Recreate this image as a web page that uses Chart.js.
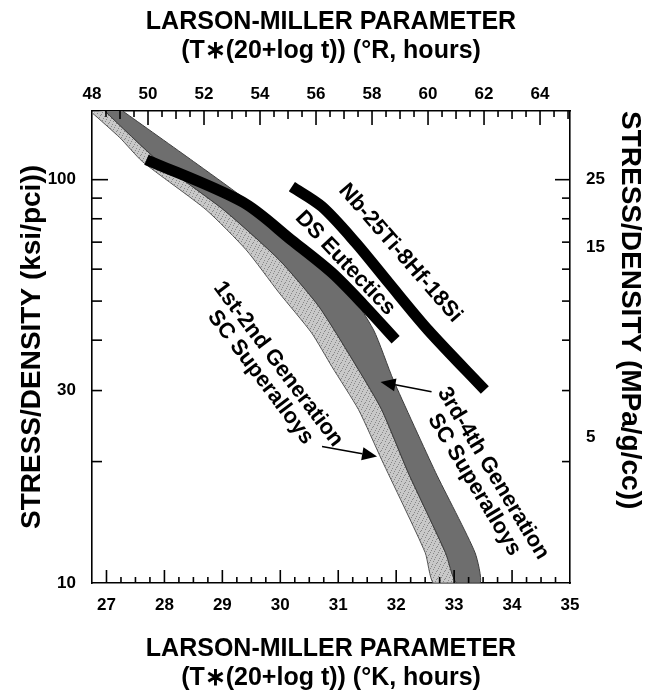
<!DOCTYPE html>
<html>
<head>
<meta charset="utf-8">
<script src="https://cdn.jsdelivr.net/npm/chart.js@4.4.1/dist/chart.umd.min.js"></script>
<style>
  html, body { margin: 0; background: #fff; }
</style>
</head>
<body>
<canvas id="lmp" width="649" height="696"></canvas>
<script>
// axis ranges
const K_MIN = 26.75, K_MAX = 35;      // bottom, deg K
const R_MIN = 48, R_MAX = 65.07;      // top, deg R
const S_MIN = 10, S_MAX = 148;        // left, ksi/pci

// tick labels
const K_LABELS = [27, 28, 29, 30, 31, 32, 33, 34, 35];
const R_LABELS = [48, 50, 52, 54, 56, 58, 60, 62, 64];
const KSI_LABELS = [10, 30, 100];
const KSI_MARKS = [20, 30, 40, 50, 60, 70, 80, 90, 100];
const MPA_LABELS = ['25', '15', '5'];
const MPA_AT = [100, 68, 23];         // ksi/pci height of each MPa/g/cc label

// band outlines, [LMP (K), stress/density (ksi/pci)]
const gen12Lower = [[26.75, 146.6], [27.23, 127.1], [27.62, 110.9], [28.72, 84.2], [29.41, 67.0],
  [29.98, 52.4], [30.54, 41.7], [30.89, 34.4], [31.35, 26.9], [31.75, 20.2], [32.5, 11.9], [32.64, 10]];
const gen12Upper = [[26.97, 148], [27.9, 111], [29.03, 84], [29.98, 63.3], [30.67, 48.4],
  [31.35, 33.8], [31.75, 26.9], [32.21, 18.75], [32.85, 11.9], [33.04, 10]];
const gen34Upper = [[27.28, 148], [28.5, 111], [29.34, 90.7], [30.15, 73.1], [31.1, 54.9],
  [31.61, 42.4], [31.95, 31.9], [32.68, 18.8], [33.36, 11.9], [33.45, 10]];

// alloy curves
const dsEutectics = [[27.69, 112.1], [29.35, 88.0], [30.21, 70.5], [30.89, 58.8], [31.44, 48.9], [31.99, 40.1]];
const nbSilicide = [[30.2, 96.1], [30.72, 85.7], [31.3, 69.8], [31.87, 55.5], [32.55, 42.4], [33.53, 30.1]];

// labels inside the plot
const NOTES = [
  { lines: ['Nb-25Ti-8Hf-18Si'], k: 32.07, ksi: 65.8, angle: 49 },
  { lines: ['DS Eutectics'], k: 31.12, ksi: 62.1, angle: 46.5 },
  { lines: ['1st-2nd Generation', 'SC Superalloys'], k: 29.81, ksi: 33.6, angle: 53 },
  { lines: ['3rd-4th Generation', 'SC Superalloys'], k: 33.51, ksi: 18.1, angle: 59 }
];
const ARROWS = [
  { from: [32.61, 29.8], to: [31.73, 31.5] },
  { from: [30.72, 21.8], to: [31.67, 20.6] }
];

const FONT = '"Liberation Sans", Arial, Helvetica, sans-serif';
const pts = arr => arr.map(([x, y]) => ({ x, y }));
const outline = (lo, hi) => pts(lo.concat(hi.slice().reverse()));

function stipple() {
  const c = document.createElement('canvas');
  c.width = c.height = 8;
  const g = c.getContext('2d');
  g.fillStyle = '#c8c8c8';
  g.fillRect(0, 0, 8, 8);
  g.fillStyle = '#888';
  [[1, 1], [5, 2], [3, 5], [7, 6], [0, 4], [6, 0], [2, 7], [4, 3]].forEach(([a, b]) => g.fillRect(a, b, 1, 1));
  return g.createPattern(c, 'repeat');
}

const tickMarks = {
  id: 'tickMarks',
  afterDraw(chart) {
    const { ctx, chartArea: a, scales } = chart;
    ctx.save();
    ctx.strokeStyle = '#000';
    ctx.lineWidth = 1.6;
    const mark = (axis, v, len) => {
      const p = scales[axis].getPixelForValue(v);
      ctx.beginPath();
      if (axis === 'x') { ctx.moveTo(p, a.bottom); ctx.lineTo(p, a.bottom - len); }
      if (axis === 'x2') { ctx.moveTo(p, a.top); ctx.lineTo(p, a.top + len); }
      if (axis === 'y') { ctx.moveTo(a.left, p); ctx.lineTo(a.left + len, p); }
      if (axis === 'y2') { ctx.moveTo(a.right, p); ctx.lineTo(a.right - len, p); }
      ctx.stroke();
    };
    for (let v = 27; v < K_MAX; v += 0.25) mark('x', v, Number.isInteger(v) ? 13 : 6);
    for (let v = R_MIN + 0.5; v < R_MAX; v += 0.5) mark('x2', v, v % 2 === 0 ? 14 : (Number.isInteger(v) ? 8 : 6));
    KSI_MARKS.forEach(v => {
      mark('y', v, v === 100 ? 16 : 10);
      mark('y2', v, v === 100 ? 15 : 8);
    });
    ctx.restore();
  }
};

const notes = {
  id: 'notes',
  afterDatasetsDraw(chart) {
    const { ctx, scales: { x, y } } = chart;
    ctx.save();
    ctx.fillStyle = '#000';
    ctx.strokeStyle = '#000';
    ctx.font = 'bold 22px ' + FONT;
    ctx.textAlign = 'center';
    ctx.textBaseline = 'middle';
    NOTES.forEach(n => {
      ctx.save();
      ctx.translate(x.getPixelForValue(n.k), y.getPixelForValue(n.ksi));
      ctx.rotate(n.angle * Math.PI / 180);
      n.lines.forEach((t, i) => ctx.fillText(t, 0, (i - (n.lines.length - 1) / 2) * 22));
      ctx.restore();
    });
    ARROWS.forEach(ar => {
      const x0 = x.getPixelForValue(ar.from[0]), y0 = y.getPixelForValue(ar.from[1]);
      const x1 = x.getPixelForValue(ar.to[0]), y1 = y.getPixelForValue(ar.to[1]);
      const ang = Math.atan2(y1 - y0, x1 - x0);
      const head = 15, half = 6.5;
      const bx = x1 - head * Math.cos(ang), by = y1 - head * Math.sin(ang);
      ctx.lineWidth = 1.6;
      ctx.beginPath();
      ctx.moveTo(x0, y0);
      ctx.lineTo(bx, by);
      ctx.stroke();
      ctx.beginPath();
      ctx.moveTo(x1, y1);
      ctx.lineTo(bx + half * Math.sin(ang), by - half * Math.cos(ang));
      ctx.lineTo(bx - half * Math.sin(ang), by + half * Math.cos(ang));
      ctx.closePath();
      ctx.fill();
    });
    ctx.restore();
  }
};

const tickFont = { family: FONT, size: 17, weight: 'bold' };
const titleFont = { family: FONT, size: 25, weight: 'bold', lineHeight: 1.14 };
const sideFont = { family: FONT, size: 28, weight: 'bold', lineHeight: 1.2 };
const axisLine = { display: true, color: '#000', width: 1.6 };
const noGrid = { display: false, drawTicks: false };

new Chart(document.getElementById('lmp'), {
  type: 'line',
  data: {
    datasets: [
      { label: 'DS Eutectics', data: pts(dsEutectics), borderColor: '#000', borderWidth: 11,
        borderCapStyle: 'butt', tension: 0.3, pointRadius: 0, fill: false },
      { label: 'Nb-25Ti-8Hf-18Si', data: pts(nbSilicide), borderColor: '#000', borderWidth: 11,
        borderCapStyle: 'butt', tension: 0.3, pointRadius: 0, fill: false },
      { label: '3rd-4th Generation SC Superalloys', data: outline(gen12Upper, gen34Upper),
        backgroundColor: '#6e6e6e', borderColor: '#3c3c3c', borderWidth: 1, tension: 0.2,
        pointRadius: 0, fill: 'shape' },
      { label: '1st-2nd Generation SC Superalloys', data: outline(gen12Lower, gen12Upper),
        backgroundColor: stipple(), borderColor: '#555', borderWidth: 1, tension: 0.2,
        pointRadius: 0, fill: 'shape' }
    ]
  },
  options: {
    responsive: false,
    animation: false,
    events: [],
    layout: { padding: 0 },
    plugins: { legend: { display: false }, tooltip: { enabled: false } },
    scales: {
      x: {
        type: 'linear', position: 'bottom', min: K_MIN, max: K_MAX,
        afterBuildTicks: s => { s.ticks = K_LABELS.map(value => ({ value })); },
        afterFit: s => { s.height = 113; },
        ticks: { autoSkip: false, maxRotation: 0, color: '#000', font: tickFont, padding: 12 },
        grid: noGrid, border: axisLine,
        title: { display: true, color: '#000', font: titleFont, padding: { top: 0, bottom: 4 },
          text: ['LARSON-MILLER PARAMETER', '(T\u2217(20+log t)) (\u00b0K, hours)'] }
      },
      x2: {
        type: 'linear', position: 'top', min: R_MIN, max: R_MAX,
        afterBuildTicks: s => { s.ticks = R_LABELS.map(value => ({ value })); },
        afterFit: s => { s.height = 111; },
        ticks: { autoSkip: false, maxRotation: 0, color: '#000', font: tickFont, padding: 6 },
        grid: noGrid, border: axisLine,
        title: { display: true, color: '#000', font: titleFont, padding: { top: 8, bottom: 0 },
          text: ['LARSON-MILLER PARAMETER', '(T\u2217(20+log t)) (\u00b0R, hours)'] }
      },
      y: {
        type: 'logarithmic', position: 'left', min: S_MIN, max: S_MAX,
        afterBuildTicks: s => { s.ticks = KSI_LABELS.map(value => ({ value })); },
        afterFit: s => { s.width = 92; },
        ticks: { autoSkip: false, color: '#000', font: tickFont, padding: 16, callback: v => String(v) },
        grid: noGrid, border: axisLine,
        title: { display: true, color: '#000', font: sideFont, padding: { top: 15, bottom: 0 },
          text: 'STRESS/DENSITY (ksi/pci))' }
      },
      y2: {
        type: 'logarithmic', position: 'right', min: S_MIN, max: S_MAX,
        afterBuildTicks: s => { s.ticks = MPA_AT.map(value => ({ value })); },
        afterFit: s => { s.width = 79; },
        ticks: { autoSkip: false, color: '#000', font: tickFont, padding: 16,
          callback: (v, i) => MPA_LABELS[i] },
        grid: noGrid, border: axisLine,
        title: { display: true, color: '#000', font: sideFont, align: 'end', padding: { top: 2, bottom: 0 },
          text: 'STRESS/DENSITY (MPa/g/cc))' }
      }
    }
  },
  plugins: [notes, tickMarks]
});
</script>
</body>
</html>
